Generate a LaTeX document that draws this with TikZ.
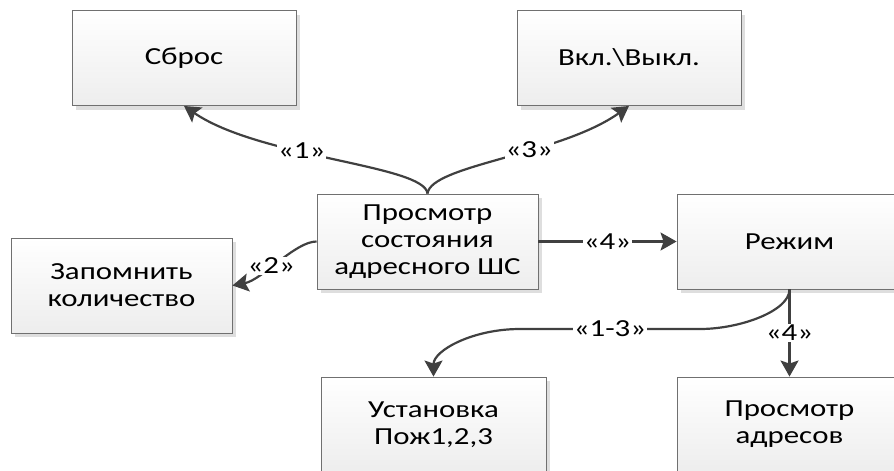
\documentclass[tikz,border=0pt]{standalone}
\usepackage{fontspec}
\setmainfont{Carlito}[FakeStretch=1.26]
\usetikzlibrary{arrows.meta,shadows}
\definecolor{linec}{HTML}{404040}
\definecolor{borderc}{HTML}{707070}
\tikzset{
  box/.style={draw=borderc, line width=0.9pt, top color=white, bottom color=black!7,
    minimum width=224pt, minimum height=95pt, inner sep=0pt, align=center,
    font=\fontsize{24.5}{27}\selectfont,
    drop shadow={shadow xshift=4pt, shadow yshift=-4pt, fill=black!13, opacity=1}},
  conn/.style={draw=linec, line width=2.2pt, -{Stealth[length=16pt,width=18pt,inset=3pt]}},
  lab/.style={fill=white, inner sep=1pt, font=\fontsize{24.5}{24.5}\selectfont, text=black}
}
\begin{document}
\begin{tikzpicture}[x=1pt,y=-1pt]
\useasboundingbox (0,0) rectangle (894,471);
\clip (0,0) rectangle (894,471);
\node[box] (sbros) at (184,58) {Сброс};
\node[box] (vkl) at (629,58) {Вкл.\textbackslash Выкл.};
\node[box, minimum width=221pt] (prosm) at (427.5,241.5) {Просмотр\\состояния\\адресного ШС};
\node[box, minimum width=221pt] (zap) at (121.5,285.5) {Запомнить\\количество};
\node[box, minimum width=225pt] (rez) at (789.5,241.5) {Режим};
\node[box, minimum width=225pt] (ust) at (433.5,424.5) {Установка\\Пож1,2,3};
\node[box, minimum width=225pt] (adr) at (789.5,424.5) {Просмотр\\адресов};
\draw[conn] (prosm.north) .. controls (425,165) and (260,158) .. node[lab, pos=0.6] (l1) {«1»} (sbros.south);
\draw[conn] (prosm.north) .. controls (431,165) and (560,155) .. node[lab, pos=0.6] (l3) {«3»} (vkl.south);
\draw[conn] (prosm.west) .. controls (295,241.5) and (262,280) .. node[lab, pos=0.57] (l2) {«2»} (zap.east);
\draw[conn] (prosm.east) -- node[lab] (l4a) {«4»} (rez.west);
\draw[conn] (rez.south) .. controls (789.5,311) and (740,329) .. (700,329)
  -- node[lab] (l13) {«1-3»} (520,329)
  .. controls (472.4,329) and (433.5,350.6) .. (ust.north);
\draw[conn] (rez.south) -- node[lab] (l4b) {«4»} (adr.north);
\end{tikzpicture}
\end{document}
